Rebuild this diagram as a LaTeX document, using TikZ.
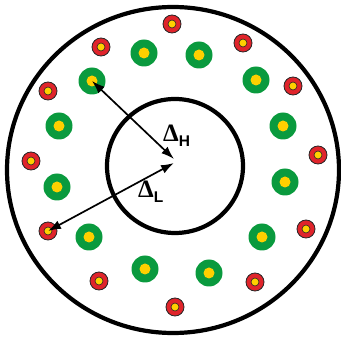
\documentclass[tikz,border=0pt]{standalone}
\usepackage{fontspec}
\setmainfont{Liberation Serif}
\setsansfont{Liberation Sans}
\usepackage{xcolor}
\usepackage{tikz}
\usetikzlibrary{arrows.meta}

\definecolor{dotgreen}{RGB}{10,154,62}
\definecolor{dotred}{RGB}{224,36,43}
\definecolor{dotyellow}{RGB}{255,208,0}

\newcommand{\gapsub}[1]{\raisebox{-5pt}{\sffamily\bfseries\fontsize{15.5}{18}\selectfont #1}}

\begin{document}
\begin{tikzpicture}[x=1pt, y=-1pt,
                hstate/.style={circle, fill=dotgreen, minimum size=27pt, inner sep=0pt,
                    path picture={\fill[dotyellow] (path picture bounding box.center) circle (5.5pt);}},
                lstate/.style={circle, draw=black!85, line width=0.8pt, fill=dotred, minimum size=18pt, inner sep=0pt,
                    path picture={\filldraw[fill=dotyellow, draw=black!85, line width=0.6pt] (path picture bounding box.center) circle (4pt);}},
                gap/.style={line width=1.7pt, {Latex[length=13pt,width=9pt]}-{Latex[length=13pt,width=9pt]}},
                gaplabel/.style={anchor=base west, inner sep=0pt, font=\bfseries\fontsize{25}{28}\selectfont}
            ]
                \useasboundingbox (0,0) rectangle (341,337);

                % Anneaux extérieur et intérieur
                \draw[line width=4.2pt] (173,170) ellipse (166 and 163);
                \draw[line width=4.2pt] (175,166) ellipse (68 and 67);

                % Niveaux haute énergie (vert)
                \node[hstate] (G1) at (144,53) {};
                \node[hstate] (G2) at (199,55) {};
                \node[hstate] (G3) at (92,81) {};
                \node[hstate] (G4) at (256,80) {};
                \node[hstate] (G5) at (59,126) {};
                \node[hstate] (G6) at (283,126) {};
                \node[hstate] (G7) at (57,187) {};
                \node[hstate] (G8) at (285,182) {};
                \node[hstate] (G9) at (89,237) {};
                \node[hstate] (G10) at (262,237) {};
                \node[hstate] (G11) at (145,269) {};
                \node[hstate] (G12) at (209,273) {};

                % Niveaux basse énergie (rouge)
                \node[lstate] (R1) at (172,24) {};
                \node[lstate] (R2) at (101,47) {};
                \node[lstate] (R3) at (243,43) {};
                \node[lstate] (R4) at (48,91) {};
                \node[lstate] (R5) at (293,86) {};
                \node[lstate] (R6) at (31,161) {};
                \node[lstate] (R7) at (318,155) {};
                \node[lstate] (R8) at (48,231) {};
                \node[lstate] (R9) at (306,229) {};
                \node[lstate] (R10) at (99,281) {};
                \node[lstate] (R11) at (255,282) {};
                \node[lstate] (R12) at (175,307) {};

                % Centre
                \coordinate (HC) at (174,159);
                \coordinate (LC) at (174,163);

                % Flèches des gaps
                \draw[gap] (G3.center) -- (HC);
                \draw[gap] (LC) -- (R8.center);

                \node[gaplabel] (DH) at (163,142) {Δ\gapsub{H}};
                \node[gaplabel] (DL) at (138,198) {Δ\gapsub{L}};
            \end{tikzpicture}
\end{document}
